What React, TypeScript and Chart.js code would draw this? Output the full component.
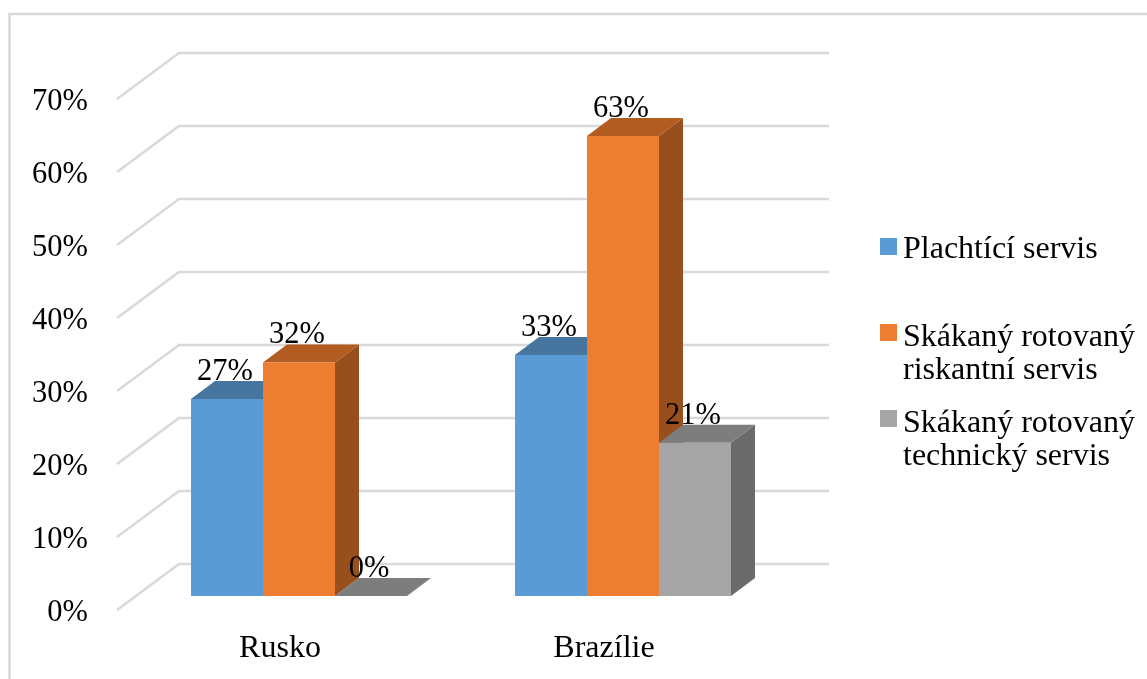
import React, { useEffect, useRef } from "react";
import { Chart, registerables } from "chart.js";

Chart.register(...registerables);

const categories = ["Rusko", "Brazílie"];
const seriesNames = ["Plachtící servis", "Skákaný rotovaný riskantní servis", "Skákaný rotovaný technický servis"];
const plachtici = [27, 33];
const riskantni = [32, 63];
const technicky = [0, 21];
const legendLines = [["Plachtící servis"], ["Skákaný rotovaný", "riskantní servis"], ["Skákaný rotovaný", "technický servis"]];
const yMax = 70;
const yStep = 10;

const FRONT = ["#5B9BD5", "#ED7D31", "#A5A5A5"];
const TOP = ["#46759F", "#B35C22", "#7D7D7D"];
const SIDE = ["#3E6A92", "#974F1E", "#6A6A6A"];
const GRID = "#D9D9D9";
const SERIF = '"Liberation Serif", serif';
const DEPTH_X = 24;
const DEPTH_Y = 18;

const poly = (ctx: CanvasRenderingContext2D, pts: number[][], fill: string) => {
  ctx.beginPath();
  pts.forEach(([x, y], i) => (i ? ctx.lineTo(x, y) : ctx.moveTo(x, y)));
  ctx.closePath();
  ctx.fillStyle = fill;
  ctx.fill();
};

const frame3d = {
  id: "frame3d",
  beforeDraw(chart: any) {
    const ctx = chart.ctx;
    ctx.save();
    ctx.fillStyle = "#FFFFFF";
    ctx.fillRect(0, 0, chart.width, chart.height);
    ctx.strokeStyle = GRID;
    ctx.lineWidth = 2.5;
    ctx.strokeRect(9.5, 14, chart.width + 20, chart.height + 20);
    ctx.restore();
  },
  beforeDatasetsDraw(chart: any) {
    const ctx = chart.ctx;
    const yScale = chart.scales.y;
    const { left, right } = chart.chartArea;
    ctx.save();
    ctx.strokeStyle = GRID;
    ctx.lineWidth = 2.5;
    yScale.ticks.forEach((t: any) => {
      const y = yScale.getPixelForValue(t.value);
      ctx.beginPath();
      ctx.moveTo(left - 20, y + 14);
      ctx.lineTo(left + 42, y - 32);
      ctx.lineTo(right + 44, y - 32);
      ctx.stroke();
    });
    chart.data.datasets.forEach((_: any, d: number) => {
      chart.getDatasetMeta(d).data.forEach((bar: any) => {
        const l = bar.x - bar.width / 2;
        const r = bar.x + bar.width / 2;
        const t = bar.y;
        const b = bar.base;
        poly(ctx, [[r, t], [r + DEPTH_X, t - DEPTH_Y], [r + DEPTH_X, b - DEPTH_Y], [r, b]], SIDE[d]);
        poly(ctx, [[l, t], [l + DEPTH_X, t - DEPTH_Y], [r + DEPTH_X, t - DEPTH_Y], [r, t]], TOP[d]);
      });
    });
    ctx.restore();
  },
  afterDatasetsDraw(chart: any) {
    const ctx = chart.ctx;
    ctx.save();
    ctx.fillStyle = "#000000";
    ctx.textAlign = "center";
    ctx.textBaseline = "alphabetic";
    ctx.font = `30.5px ${SERIF}`;
    chart.data.datasets.forEach((ds: any, d: number) => {
      chart.getDatasetMeta(d).data.forEach((bar: any, i: number) => {
        ctx.fillText(`${ds.data[i]}%`, bar.x - 2, bar.y - 19);
      });
    });
    const boxY = [238, 324, 410];
    const baselines = [[258], [346, 379], [432, 465]];
    ctx.textAlign = "left";
    ctx.font = `32px ${SERIF}`;
    legendLines.forEach((lines, d) => {
      ctx.fillStyle = FRONT[d];
      ctx.fillRect(880, boxY[d], 17, 17);
      ctx.fillStyle = "#000000";
      lines.forEach((line, k) => ctx.fillText(line, 903, baselines[d][k]));
    });
    ctx.restore();
  },
};

export default function App() {
  const ref = useRef<HTMLCanvasElement>(null);
  useEffect(() => {
    document.body.style.margin = "0";
    const chart = new Chart(ref.current!, {
      type: "bar",
      data: {
        labels: categories,
        datasets: [plachtici, riskantni, technicky].map((data, d) => ({
          label: seriesNames[d],
          data,
          backgroundColor: FRONT[d],
          borderWidth: 0,
          categoryPercentage: 2 / 3,
          barPercentage: 1,
        })),
      },
      options: {
        responsive: false,
        animation: false,
        layout: { padding: { left: 0, top: 85, right: 362, bottom: 0 } },
        plugins: { legend: { display: false }, tooltip: { enabled: false } },
        scales: {
          x: {
            grid: { display: false },
            border: { display: false },
            afterFit: (s: any) => { s.height = 83; },
            ticks: {
              color: "#000000",
              font: { family: SERIF, size: 32 },
              padding: 25,
              labelOffset: -19,
              autoSkip: false,
              maxRotation: 0,
            },
          },
          y: {
            min: 0,
            max: yMax,
            grid: { display: false },
            border: { display: false },
            afterFit: (s: any) => { s.width = 137; },
            ticks: {
              stepSize: yStep,
              color: "#000000",
              font: { family: SERIF, size: 30.5 },
              padding: 41,
              labelOffset: 17,
              callback: (v: any) => `${v}%`,
            },
          },
        },
      },
      plugins: [frame3d],
    } as any);
    return () => chart.destroy();
  }, []);
  return (
    <div style={{ position: "absolute", left: 0, top: 0, width: 1147, height: 679, overflow: "hidden" }}>
      <canvas ref={ref} width={1147} height={679} style={{ display: "block" }} />
    </div>
  );
}
